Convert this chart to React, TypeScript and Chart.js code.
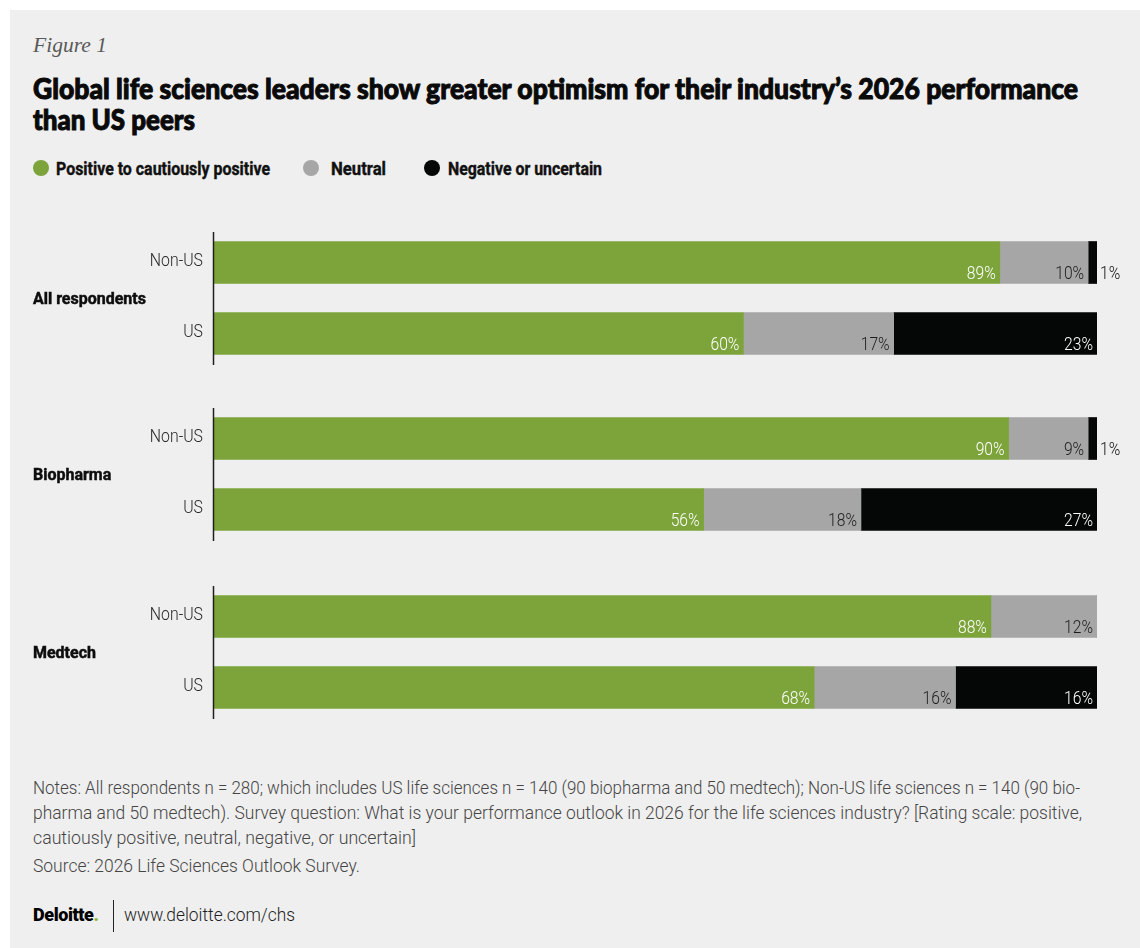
import React, { useEffect, useLayoutEffect, useRef } from "react";
import { Chart, registerables } from "chart.js";

Chart.register(...registerables);

// ---------------- data ----------------
const groups = ["All respondents", "Biopharma", "Medtech"];
const categories = ["Non-US", "US"];
const seriesNames = ["Positive to cautiously positive", "Neutral", "Negative or uncertain"];
// order per series: [All Non-US, All US, Bio Non-US, Bio US, Med Non-US, Med US]
const positive = [89, 60, 90, 55.5, 88, 68];
const neutral = [10, 17, 9, 17.8, 12, 16];
const negative = [1, 23, 1, 26.7, 0, 16];

const seriesColors = ["#7ca43b", "#a6a6a6", "#050606"];
const labelColors = ["#ffffff", "#1c1c1c", "#ffffff"];

const figureLabel = "Figure 1";
const titleLines = [
  "Global life sciences leaders show greater optimism for their industry\u2019s 2026 performance",
  "than US peers",
];
const noteLines = [
  "Notes: All respondents n = 280; which includes US life sciences n = 140 (90 biopharma and 50 medtech); Non-US life sciences n = 140 (90 bio-",
  "pharma and 50 medtech). Survey question: What is your performance outlook in 2026 for the life sciences industry? [Rating scale: positive,",
  "cautiously positive, neutral, negative, or uncertain]",
];
const sourceLine = "Source: 2026 Life Sciences Outlook Survey.";

// ---------------- layout ----------------
const PANEL_X = 10;
const PANEL_Y = 10;
const chartTops = [227, 403, 581];
const CHART_H = 142;
const CANVAS_W = 1130;

type FitProps = {
  x: number;
  baseline: number;
  width: number;
  size: number;
  family: string;
  weight?: number;
  color: string;
  italic?: boolean;
  asc: number;
  text: string;
  stroke?: number;
};

function Fit({ x, baseline, width, size, family, weight = 400, color, italic, asc, text, stroke = 0 }: FitProps) {
  const ref = useRef<HTMLDivElement>(null);
  useLayoutEffect(() => {
    const el = ref.current;
    if (!el) return;
    el.style.transform = "none";
    const w = el.getBoundingClientRect().width;
    if (w > 0) el.style.transform = `scaleX(${width / w})`;
  }, [width, text]);
  return (
    <div
      ref={ref}
      style={{
        position: "absolute",
        left: x - PANEL_X,
        top: baseline - PANEL_Y - asc * size,
        fontSize: size,
        lineHeight: `${size}px`,
        fontFamily: family,
        fontWeight: weight,
        fontStyle: italic ? "italic" : "normal",
        color,
        whiteSpace: "nowrap",
        transformOrigin: "0 0",
        WebkitTextStroke: stroke ? `${stroke}px ${color}` : undefined,
      }}
    >
      {text}
    </div>
  );
}

const ROBOTO_ASC = 0.842;
const LATO_ASC = 0.887;
const SERIF_ASC = 0.838;

function GroupChart({ g }: { g: number }) {
  const ref = useRef<HTMLCanvasElement>(null);
  useEffect(() => {
    const canvas = ref.current;
    if (!canvas) return;
    const idx = [g * 2, g * 2 + 1];
    const series = [positive, neutral, negative];

    const overlay = {
      id: "overlay",
      afterDatasetsDraw(chart: any) {
        const ctx = chart.ctx as CanvasRenderingContext2D;
        const area = chart.chartArea;
        const yScale = chart.scales.y;
        ctx.save();
        // axis line
        ctx.strokeStyle = "#1e1e1e";
        ctx.lineWidth = 1.5;
        ctx.beginPath();
        ctx.moveTo(area.left + 0.5, area.top + 5);
        ctx.lineTo(area.left + 0.5, area.bottom - 4);
        ctx.stroke();

        // category labels
        ctx.font = "300 18px Roboto";
        ctx.fillStyle = "#262626";
        ctx.textAlign = "right";
        ctx.textBaseline = "alphabetic";
        (chart.data.labels as string[]).forEach((lab, i) => {
          const y = yScale.getPixelForTick(i);
          ctx.save();
          ctx.translate(area.left - 10, y + 3);
          ctx.scale(0.88, 1);
          ctx.fillText(lab, 0, 0);
          ctx.restore();
        });

        // group label
        const mid = (yScale.getPixelForTick(0) + yScale.getPixelForTick(1)) / 2;
        ctx.font = "700 17px Roboto";
        ctx.fillStyle = "#0d0d0d";
        ctx.strokeStyle = "#0d0d0d";
        ctx.lineWidth = 0.5;
        ctx.textAlign = "left";
        ctx.save();
        ctx.translate(23, mid + 6);
        ctx.scale(0.94, 1);
        ctx.fillText(groups[g], 0, 0);
        ctx.strokeText(groups[g], 0, 0);
        ctx.restore();

        // value labels
        ctx.font = "300 18px Roboto";
        chart.data.datasets.forEach((ds: any, di: number) => {
          const meta = chart.getDatasetMeta(di);
          meta.data.forEach((bar: any, j: number) => {
            const v = ds.data[j] as number;
            if (!v) return;
            const p = bar.getProps(["x", "y", "base", "height"], true);
            const w = p.x - p.base;
            const text = `${Math.round(v)}%`;
            const yb = p.y + p.height / 2 - 5;
            ctx.save();
            if (w > 30) {
              ctx.fillStyle = labelColors[di];
              ctx.textAlign = "right";
              ctx.translate(p.x - 4, yb);
            } else {
              ctx.fillStyle = "#111111";
              ctx.textAlign = "left";
              ctx.translate(p.x + 3, yb);
            }
            ctx.scale(0.87, 1);
            ctx.fillText(text, 0, 0);
            ctx.restore();
          });
        });
        ctx.restore();
      },
    };

    const chart = new Chart(canvas, {
      type: "bar",
      data: {
        labels: categories,
        datasets: seriesNames.map((name, si) => ({
          label: name,
          data: idx.map((k) => series[si][k]),
          backgroundColor: seriesColors[si],
          borderWidth: 0,
          barThickness: 42,
        })),
      },
      options: {
        indexAxis: "y",
        responsive: false,
        animation: false,
        layout: { padding: { left: 0, right: 43, top: 0, bottom: 0 } },
        plugins: { legend: { display: false }, tooltip: { enabled: false } },
        scales: {
          x: {
            stacked: true,
            min: 0,
            max: 100,
            display: false,
          },
          y: {
            stacked: true,
            grid: { display: false, drawTicks: false },
            border: { display: false },
            ticks: { display: false },
            afterFit: (s: any) => {
              s.width = 203;
            },
          },
        },
      },
      plugins: [overlay],
    });
    return () => chart.destroy();
  }, [g]);
  return (
    <canvas
      ref={ref}
      width={CANVAS_W}
      height={CHART_H}
      style={{ position: "absolute", left: 0, top: chartTops[g] - PANEL_Y, width: CANVAS_W, height: CHART_H }}
    />
  );
}

const legendItems = [
  { dot: 33, text: 56, width: 214 },
  { dot: 303, text: 331, width: 55 },
  { dot: 424, text: 448, width: 154 },
];

export default function App() {
  return (
    <div
      style={{
        position: "absolute",
        left: PANEL_X,
        top: PANEL_Y,
        width: 1140 - PANEL_X,
        height: 948 - PANEL_Y,
        background: "#efefef",
        overflow: "hidden",
      }}
    >
      <Fit x={33} baseline={52} width={74} size={22} family="'Liberation Serif', serif" italic color="#5a5a5a" asc={SERIF_ASC} text={figureLabel} />
      <Fit x={33} baseline={99} width={1045} size={28} family="'Lato Black', Lato" weight={900} color="#0a0a0a" asc={LATO_ASC} stroke={1} text={titleLines[0]} />
      <Fit x={33} baseline={130} width={162} size={28} family="'Lato Black', Lato" weight={900} color="#0a0a0a" asc={LATO_ASC} stroke={1} text={titleLines[1]} />

      {legendItems.map((it, i) => (
        <React.Fragment key={i}>
          <div
            style={{
              position: "absolute",
              left: it.dot - PANEL_X,
              top: 168 - 8 - PANEL_Y,
              width: 16,
              height: 16,
              borderRadius: "50%",
              background: seriesColors[i],
            }}
          />
          <Fit x={it.text} baseline={175} width={it.width} size={18} family="Roboto" weight={700} color="#111111" asc={ROBOTO_ASC} stroke={0.4} text={seriesNames[i]} />
        </React.Fragment>
      ))}

      {groups.map((_, g) => (
        <GroupChart key={g} g={g} />
      ))}

      <Fit x={33} baseline={794} width={1047} size={18} family="Roboto" weight={300} color="#454545" asc={ROBOTO_ASC} text={noteLines[0]} />
      <Fit x={33} baseline={819} width={1049} size={18} family="Roboto" weight={300} color="#454545" asc={ROBOTO_ASC} text={noteLines[1]} />
      <Fit x={33} baseline={844} width={383} size={18} family="Roboto" weight={300} color="#454545" asc={ROBOTO_ASC} text={noteLines[2]} />
      <Fit x={33} baseline={872} width={327} size={18} family="Roboto" weight={300} color="#454545" asc={ROBOTO_ASC} text={sourceLine} />

      <div
        style={{
          position: "absolute",
          left: 33 - PANEL_X,
          top: 921 - PANEL_Y - ROBOTO_ASC * 18,
          fontSize: 18,
          lineHeight: "18px",
          fontFamily: "Roboto",
          fontWeight: 900,
          color: "#000",
          whiteSpace: "nowrap",
          letterSpacing: "-0.4px",
        }}
      >
        Deloitte<span style={{ color: "#86bc25" }}>.</span>
      </div>
      <div style={{ position: "absolute", left: 113 - PANEL_X, top: 900 - PANEL_Y, width: 1, height: 32, background: "#222" }} />
      <Fit x={124} baseline={921} width={171} size={18} family="Roboto" weight={300} color="#222222" asc={ROBOTO_ASC} text="www.deloitte.com/chs" />
    </div>
  );
}
